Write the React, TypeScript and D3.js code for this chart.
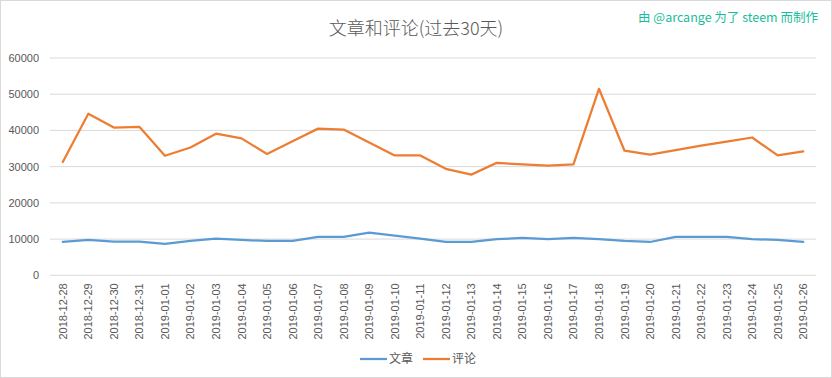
import React from "react";
import * as d3 from "d3";

const dates = [
  "2018-12-28","2018-12-29","2018-12-30","2018-12-31","2019-01-01","2019-01-02","2019-01-03","2019-01-04","2019-01-05","2019-01-06",
  "2019-01-07","2019-01-08","2019-01-09","2019-01-10","2019-01-11","2019-01-12","2019-01-13","2019-01-14","2019-01-15","2019-01-16",
  "2019-01-17","2019-01-18","2019-01-19","2019-01-20","2019-01-21","2019-01-22","2019-01-23","2019-01-24","2019-01-25","2019-01-26",
];
const posts = [
  9200, 9750, 9300, 9300, 8650, 9500, 10100, 9750, 9500, 9500,
  10600, 10600, 11800, 10950, 10100, 9200, 9200, 10000, 10300, 10000,
  10350, 10000, 9500, 9200, 10600, 10600, 10600, 10000, 9750, 9200,
];
const comments = [
  31300, 44600, 40800, 41000, 33000, 35300, 39100, 37800, 33500, 37000,
  40500, 40250, 36700, 33100, 33100, 29400, 27800, 31050, 30600, 30300,
  30600, 51500, 34400, 33350, 34550, 35800, 36900, 38050, 33100, 34200,
];
const yTicks = [0, 10000, 20000, 30000, 40000, 50000, 60000];
const seriesNames = ["文章", "评论"];
const colors = ["#5b9bd5", "#ed7d31"];
const title = "文章和评论(过去30天)";
const credit = "由 @arcange 为了 steem 而制作";

export default function App() {
  const W = 832, H = 378;
  const left = 50, right = 816, top = 58, bottom = 275.3;
  const x = d3.scaleBand<string>().domain(dates).range([left, right]);
  const y = d3.scaleLinear().domain([0, 60000]).range([bottom, top]);
  const line = d3
    .line<number>()
    .x((_, i) => (x(dates[i]) as number) + x.bandwidth() / 2)
    .y((d) => y(d));
  const series = [posts, comments];
  const numFont = "'Liberation Sans', Arial, sans-serif";
  const cjkFont = "'Noto Sans CJK SC', 'Liberation Sans', sans-serif";
  return (
    <svg
      width={W}
      height={H}
      style={{ position: "absolute", left: 0, top: 0, display: "block", background: "#fff" }}
    >
      <rect x={0.5} y={0.5} width={W - 1} height={H - 1} fill="#fff" stroke="#d9d9d9" />
      <text x={416} y={35} textAnchor="middle" fontSize={18} fontWeight={300} fill="#595959" fontFamily={cjkFont}>
        {title}
      </text>
      <text x={818} y={22} textAnchor="end" fontSize={12.5} fill="#1abc9c" fontFamily={cjkFont}>
        {credit}
      </text>
      {yTicks.map((t) => (
        <g key={t}>
          <line x1={left} x2={right} y1={y(t)} y2={y(t)} stroke="#d9d9d9" strokeWidth={1} />
          <text x={39} y={y(t)} dy="0.35em" textAnchor="end" fontSize={11} fill="#595959" fontFamily={numFont}>
            {t}
          </text>
        </g>
      ))}
      {dates.map((d) => {
        const cx = (x(d) as number) + x.bandwidth() / 2;
        return (
          <text
            key={d}
            transform={`translate(${cx + 4},${bottom + 8}) rotate(-90)`}
            textAnchor="end"
            fontSize={11}
            fill="#595959"
            fontFamily={numFont}
          >
            {d}
          </text>
        );
      })}
      {series.map((s, i) => (
        <path
          key={i}
          d={line(s) as string}
          fill="none"
          stroke={colors[i]}
          strokeWidth={2.25}
          strokeLinejoin="round"
          strokeLinecap="round"
        />
      ))}
      {seriesNames.map((n, i) => {
        const lx = i === 0 ? 360 : 423;
        return (
          <g key={n}>
            <line x1={lx} x2={lx + 27} y1={359} y2={359} stroke={colors[i]} strokeWidth={2.25} />
            <text x={lx + 29} y={359} dy="0.35em" fontSize={12} fill="#595959" fontFamily={cjkFont}>
              {n}
            </text>
          </g>
        );
      })}
    </svg>
  );
}
